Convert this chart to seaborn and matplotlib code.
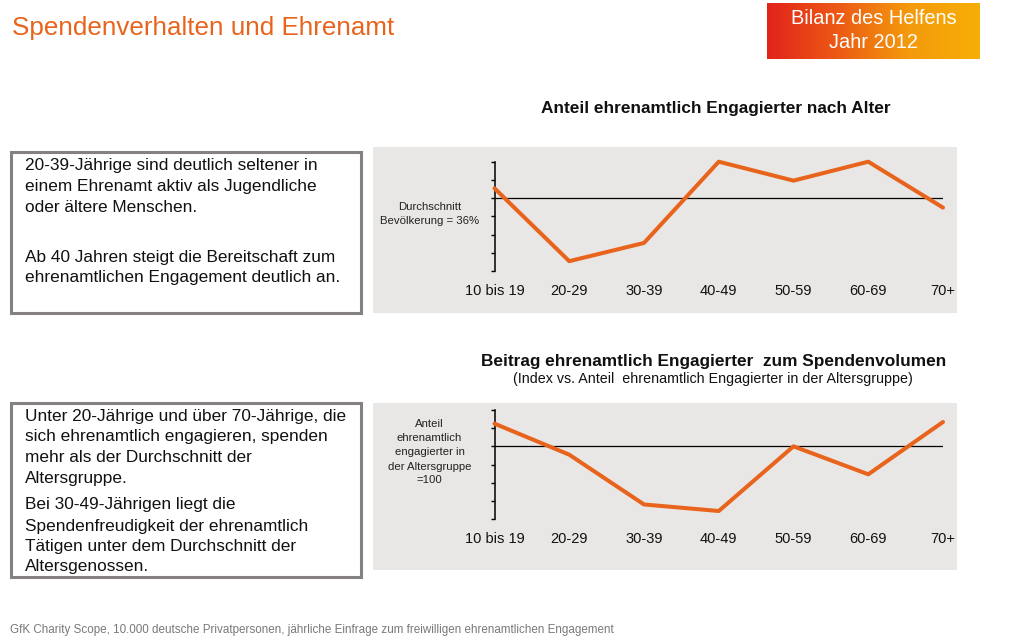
"""
Spendenverhalten und Ehrenamt - two line charts by age group (GfK Charity Scope 2012).
"""

import numpy as np
import pandas as pd
import matplotlib
matplotlib.use("Agg")
import matplotlib.pyplot as plt
from matplotlib.patches import Rectangle
import seaborn as sns

# ─── Data ─────────────────────────────────
age_groups = ["10 bis 19", "20-29", "30-39", "40-49", "50-59", "60-69", "70+"]
share_volunteers = [38.7, 18.7, 23.7, 46.0, 40.8, 46.0, 33.4]   # % engaged per age group
avg_population = 36
share_ticks = [16, 21, 26, 31, 36, 41, 46]

donation_index = [112.5, 95.4, 68.0, 64.4, 100.0, 84.6, 113.4]  # index, age group = 100
index_base = 100
index_ticks = [60, 70, 80, 90, 100, 110, 120]

ORANGE = "#E8641C"
PANEL_GREY = "#E9E7E5"
BOX_EDGE = "#858180"

W, H = 1024, 642


def fx(px):
    return px / W


def fy(py):
    return 1 - py / H


def place_axes(fig, left, top, right, bottom):
    return fig.add_axes([fx(left), fy(bottom), fx(right - left), (bottom - top) / H])


sns.set_theme(style="white")
plt.rcParams["font.family"] = ["Liberation Sans", "DejaVu Sans"]

fig = plt.figure(figsize=(W / 100, H / 100), dpi=100)
fig.patch.set_facecolor("white")

# ─── Header ─────────────────────────────────
fig.text(fx(12), fy(28), "Spendenverhalten und Ehrenamt", color=ORANGE,
         fontsize=18.7, va="center", ha="left")

badge = place_axes(fig, 767, 3, 980, 59)
grad = np.linspace(0, 1, 256).reshape(1, -1)
badge_cmap = matplotlib.colors.LinearSegmentedColormap.from_list(
    "badge", ["#E2231C", "#EC5A14", "#F49A0C", "#F7AE06"])
badge.imshow(grad, aspect="auto", cmap=badge_cmap, extent=(0, 1, 0, 1))
badge.set_axis_off()
badge.text(0.5, 0.72, "Bilanz des Helfens", color="white", fontsize=14.4,
           ha="center", va="center", transform=badge.transAxes)
badge.text(0.5, 0.29, "Jahr 2012", color="white", fontsize=14.4,
           ha="center", va="center", transform=badge.transAxes)

# ─── Grey panels and text boxes ─────────────────────────────────
for top, bottom in [(147, 313), (403, 570)]:
    fig.patches.append(Rectangle((fx(373), fy(bottom)), fx(957 - 373), (bottom - top) / H,
                                 transform=fig.transFigure, facecolor=PANEL_GREY,
                                 edgecolor="none", zorder=-2))

for top, bottom in [(152, 313), (403, 577)]:
    fig.patches.append(Rectangle((fx(11), fy(bottom)), fx(361 - 11), (bottom - top) / H,
                                 transform=fig.transFigure, facecolor="white",
                                 edgecolor=BOX_EDGE, linewidth=2.2, zorder=-1))

box1_lines = [
    (166, "20-39-Jährige sind deutlich seltener in"),
    (187, "einem Ehrenamt aktiv als Jugendliche"),
    (207, "oder ältere Menschen."),
    (258, "Ab 40 Jahren steigt die Bereitschaft zum"),
    (278, "ehrenamtlichen Engagement deutlich an."),
]
box2_lines = [
    (416, "Unter 20-Jährige und über 70-Jährige, die"),
    (437, "sich ehrenamtlich engagieren, spenden"),
    (458, "mehr als der Durchschnitt der"),
    (478, "Altersgruppe."),
    (505, "Bei 30-49-Jährigen liegt die"),
    (526, "Spendenfreudigkeit der ehrenamtlich"),
    (546, "Tätigen unter dem Durchschnitt der"),
    (566, "Altersgenossen."),
]
for y, line in box1_lines + box2_lines:
    fig.text(fx(25), fy(y), line, fontsize=12.4, color="#111111", ha="left", va="center")

# ─── Chart titles ─────────────────────────────────
fig.text(fx(716), fy(108), "Anteil ehrenamtlich Engagierter nach Alter",
         fontsize=12.4, fontweight="bold", ha="center", va="center", color="#111111")
fig.text(fx(714), fy(362), "Beitrag ehrenamtlich Engagierter  zum Spendenvolumen",
         fontsize=12.4, fontweight="bold", ha="center", va="center", color="#111111")
fig.text(fx(713), fy(379), "(Index vs. Anteil  ehrenamtlich Engagierter in der Altersgruppe)",
         fontsize=10.3, ha="center", va="center", color="#111111")


def draw_line_chart(ax, values, ticks, ref):
    df = pd.DataFrame({"age": age_groups, "value": values})
    sns.lineplot(data=df, x="age", y="value", sort=False, color=ORANGE,
                 linewidth=2.9, ax=ax, clip_on=False, zorder=3)
    ax.axhline(ref, color="black", linewidth=0.9, zorder=2)
    ax.set_xlim(0, len(age_groups) - 1)
    ax.set_ylim(ticks[0], ticks[-1])
    ax.set_yticks(ticks)
    ax.set_yticklabels([])
    ax.set_xlabel("")
    ax.set_ylabel("")
    ax.patch.set_alpha(0)
    ax.set_zorder(5)
    for side in ["top", "right", "bottom"]:
        ax.spines[side].set_visible(False)
    ax.spines["left"].set_color("black")
    ax.spines["left"].set_linewidth(1.1)
    ax.tick_params(axis="y", direction="out", length=3, width=1, color="black", left=True)
    ax.tick_params(axis="x", length=0, pad=9.5, labelsize=10.5, labelcolor="#111111")


# ─── Chart 1 ─────────────────────────────────
ax1 = place_axes(fig, 494.5, 161.7, 943, 271)
draw_line_chart(ax1, share_volunteers, share_ticks, avg_population)
fig.text(fx(430), fy(206.5), "Durchschnitt", fontsize=8.2, ha="center", va="center",
         color="#222222")
fig.text(fx(430), fy(221), "Bevölkerung = 36%", fontsize=8.2, ha="center", va="center",
         color="#222222")

# ─── Chart 2 ─────────────────────────────────
ax2 = place_axes(fig, 494.5, 410, 943, 519)
draw_line_chart(ax2, donation_index, index_ticks, index_base)
for y, line in zip([424, 438, 452, 467, 480],
                   ["Anteil", "ehrenamtlich", "engagierter in", "der Altersgruppe", "=100"]):
    fig.text(fx(429.5), fy(y), line, fontsize=8.2, ha="center", va="center", color="#222222")

# ─── Footer ─────────────────────────────────
fig.text(fx(10), fy(630),
         "GfK Charity Scope, 10.000 deutsche Privatpersonen, jährliche Einfrage zum "
         "freiwilligen ehrenamtlichen Engagement",
         fontsize=8.4, color="#7a7878", ha="left", va="center")

fig.savefig("out.png", dpi=100, facecolor="white")
